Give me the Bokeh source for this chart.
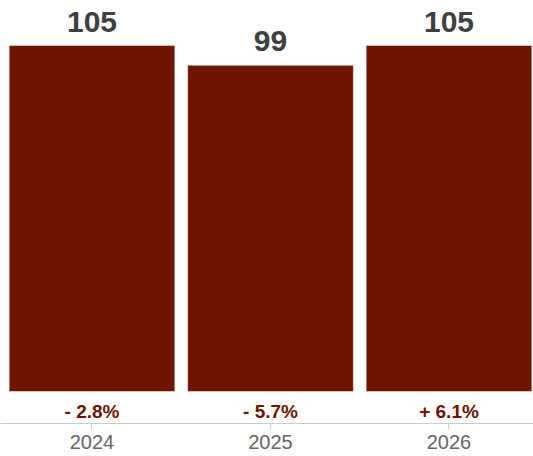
from bokeh.plotting import figure
from bokeh.models import ColumnDataSource, FixedTicker, Range1d
from bokeh.core.properties import value
from bokeh.embed import file_html
from bokeh.resources import INLINE

# ---- data ----
years = ["2024", "2025", "2026"]
values = [105, 99, 105]
changes = [-2.8, -5.7, 6.1]

xs = [1, 2, 3]
value_labels = [str(v) for v in values]
change_labels = [("+ " if c > 0 else "- ") + f"{abs(c):.1f}%" for c in changes]

src = ColumnDataSource(dict(x=xs, top=values, vlab=value_labels,
                            clab=change_labels, zero=[0] * len(xs)))

FONT = "Liberation Sans"
BAR = "#6e1400"

p = figure(frame_width=533, frame_height=423, output_backend="svg",
           toolbar_location=None, min_border=0,
           x_range=Range1d(0.4874, 3.4734), y_range=Range1d(-9.71, 118.66))

p.vbar(x="x", top="top", bottom=0, width=0.928, source=src,
       fill_color=BAR, line_color="white", line_alpha=0.45, line_width=1)

p.text(x="x", y="top", text="vlab", source=src, y_offset=-24,
       text_align="center", text_baseline="middle",
       text_font=value(FONT), text_font_style="bold",
       text_font_size="30px", text_color="#404040")

p.text(x="x", y="zero", text="clab", source=src, y_offset=20,
       text_align="center", text_baseline="middle",
       text_font=value(FONT), text_font_style="bold",
       text_font_size="19px", text_color=BAR)

p.yaxis.visible = False
p.xgrid.visible = False
p.ygrid.visible = False
p.outline_line_color = None

ax = p.xaxis[0]
ax.ticker = FixedTicker(ticks=xs)
ax.major_label_overrides = {x: y for x, y in zip(xs, years)}
ax.major_label_text_font = FONT
ax.major_label_text_font_size = "20px"
ax.major_label_text_color = "#666666"
ax.major_label_standoff = 5
ax.axis_line_color = "#cccccc"
ax.major_tick_line_color = "#cccccc"
ax.major_tick_in = 0
ax.major_tick_out = 6
ax.minor_tick_line_color = None

open("out.html", "w").write(file_html(p, INLINE))
